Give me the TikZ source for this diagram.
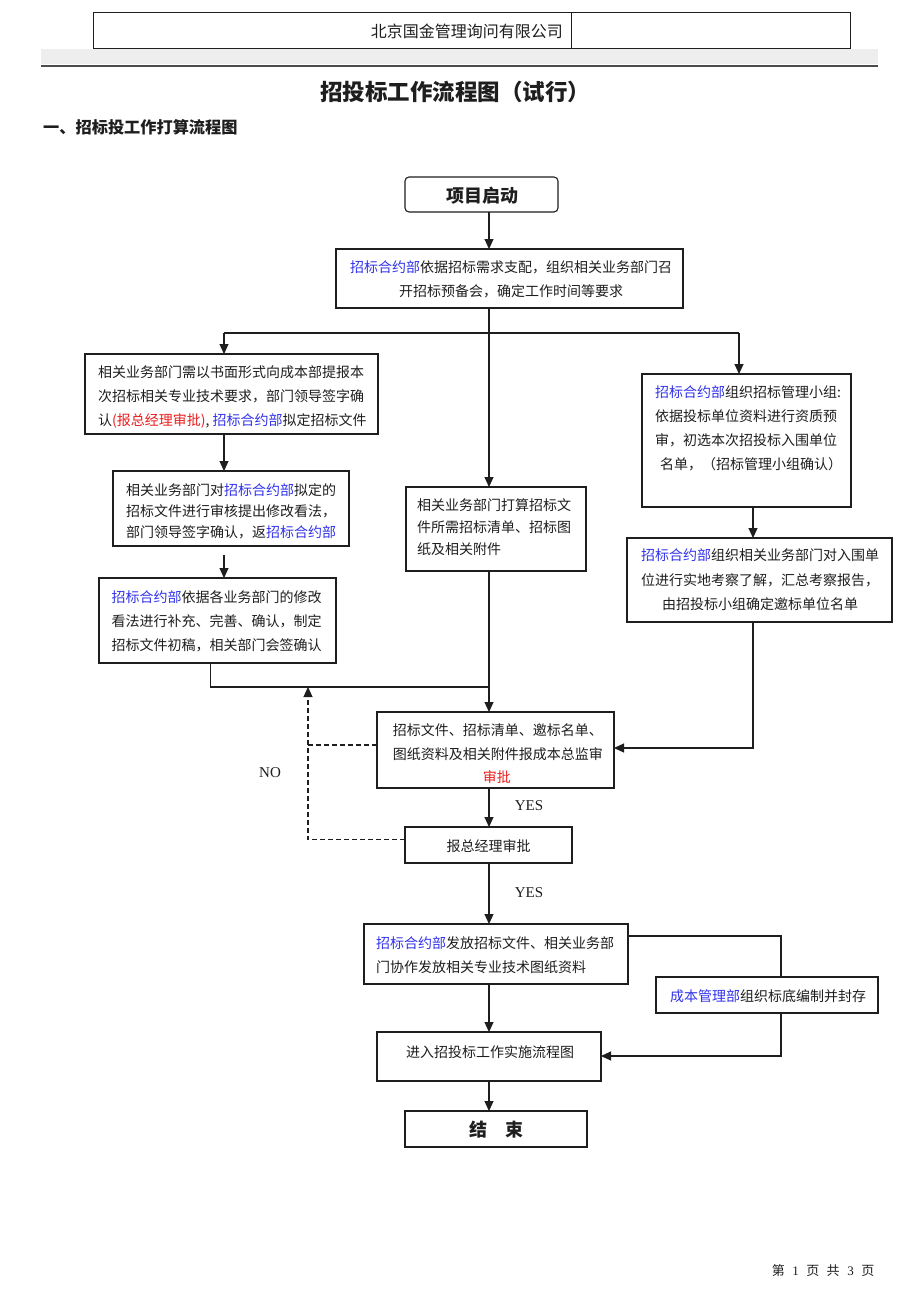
\documentclass[tikz,border=0pt]{standalone}
\usepackage{fontspec}
\setmainfont{Liberation Serif}
\newfontfamily\cjk{Noto Sans CJK SC}
\usetikzlibrary{arrows.meta}
\definecolor{cblue}{RGB}{50,50,235}
\definecolor{cred}{RGB}{235,30,30}
\definecolor{ink}{RGB}{30,30,30}
\tikzset{
  box/.style={draw=ink, line width=1.1pt, inner sep=0pt, outer sep=0pt},
  txt/.style={inner sep=0pt, align=left, text=ink},
  ctxt/.style={inner sep=0pt, align=center, text=ink},
  body/.style={font=\cjk\fontsize{14}{24}\selectfont},
  conn/.style={draw=ink, line width=1.1pt},
  arr/.style={conn, -{Triangle[length=10pt,width=9pt]}},
  dsh/.style={dash pattern=on 5pt off 3pt}
}
\begin{document}
\begin{tikzpicture}[x=1pt,y=-1pt]
\useasboundingbox (0,0) rectangle (920,1302);
\fill[white] (0,0) rectangle (920,1302);
% header
\fill[gray!13] (41,49) rectangle (878,64);
\draw[line width=2pt, gray!60!black] (41,65.5) -- (878,65.5);
\node[box, line width=0.8pt, minimum width=757pt, minimum height=36pt] (hdr) at (471.5,30) {};
\coordinate (hdiv) at (571,0);
\draw[ink, line width=0.8pt] (hdr.north -| hdiv) -- (hdr.south -| hdiv);
\node[txt, anchor=east, font=\cjk\fontsize{16}{18}\selectfont] (hdrt) at (563,31) {北京国金管理询问有限公司};
\node[ctxt, font=\cjk\bfseries\fontsize{22.5}{26}\selectfont] (title) at (455,92) {招投标工作流程图（试行）};
\node[txt, anchor=west, font=\cjk\bfseries\fontsize{16.2}{18}\selectfont] (sub) at (43,127) {一、招标投工作打算流程图};
% boxes
\node[box, rounded corners=4pt, minimum width=153pt, minimum height=35pt] (start) at (481.5,194.5) {};
\node[ctxt, font=\cjk\bfseries\fontsize{18}{20}\selectfont] (startt) at (482,196) {项目启动};
\node[box, minimum width=347pt, minimum height=59pt] (b2) at (509.5,278.5) {};
\node[ctxt, body] (b2t) at (511,279.7) {{\color{cblue}招标合约部}依据招标需求支配，组织相关业务部门召\\开招标预备会，确定工作时间等要求};
\node[box, minimum width=293pt, minimum height=80pt] (L1) at (231.5,394) {};
\node[txt, body, anchor=west] (L1t) at (98,396.5) {相关业务部门需以书面形式向成本部提报本\\次招标相关专业技术要求，部门领导签字确\\认{\color{cred}(报总经理审批)}, {\color{cblue}招标合约部}拟定招标文件};
\node[box, minimum width=236pt, minimum height=75pt] (L2) at (231,508.5) {};
\node[txt, anchor=west, font=\cjk\fontsize{14}{21}\selectfont] (L2t) at (126,511) {相关业务部门对{\color{cblue}招标合约部}拟定的\\招标文件进行审核提出修改看法，\\部门领导签字确认，返{\color{cblue}招标合约部}};
\node[box, minimum width=237pt, minimum height=85pt] (L3) at (217.5,620.5) {};
\node[txt, body, anchor=west] (L3t) at (111.5,621) {{\color{cblue}招标合约部}依据各业务部门的修改\\看法进行补充、完善、确认，制定\\招标文件初稿，相关部门会签确认};
\node[box, minimum width=180pt, minimum height=84pt] (M) at (496,529) {};
\node[txt, anchor=west, font=\cjk\fontsize{14}{21.7}\selectfont] (Mt) at (417,527) {相关业务部门打算招标文\\件所需招标清单、招标图\\纸及相关附件};
\node[box, minimum width=209pt, minimum height=133pt] (R1) at (746.5,440.5) {};
\node[txt, body, anchor=west] (R1t) at (655,428.3) {{\color{cblue}招标合约部}组织招标管理小组:\\依据投标单位资料进行资质预\\审，初选本次招投标入围单位\\\hspace*{5pt}名单，（招标管理小组确认）};
\node[box, minimum width=265pt, minimum height=84pt] (R2) at (759.5,580) {};
\node[ctxt, font=\cjk\fontsize{14}{24.5}\selectfont] (R2t) at (760,580) {{\color{cblue}招标合约部}组织相关业务部门对入围单\\位进行实地考察了解，汇总考察报告，\\由招投标小组确定邀标单位名单};
\node[box, minimum width=237pt, minimum height=76pt] (C) at (495.5,750) {};
\node[txt, anchor=west, font=\cjk\fontsize{14}{23.6}\selectfont] (Ct) at (392.7,754) {招标文件、招标清单、邀标名单、\\图纸资料及相关附件报成本总监审\\\hspace*{90pt}{\color{cred}审批}};
\node[box, minimum width=167pt, minimum height=36pt] (D) at (488.5,845) {};
\node[ctxt, body] (Dt) at (488.5,846) {报总经理审批};
\node[box, minimum width=264pt, minimum height=60pt] (E) at (496,954) {};
\node[txt, body, anchor=west] (Et) at (376,954.7) {{\color{cblue}招标合约部}发放招标文件、相关业务部\\门协作发放相关专业技术图纸资料};
\node[box, minimum width=222pt, minimum height=36pt] (F) at (767,995) {};
\node[ctxt, body] (Ft) at (768,996) {{\color{cblue}成本管理部}组织标底编制并封存};
\node[box, minimum width=224pt, minimum height=49pt] (G) at (489,1056.5) {};
\node[txt, body, anchor=west] (Gt) at (406,1052) {进入招投标工作实施流程图};
\node[box, minimum width=182pt, minimum height=36pt] (H) at (496,1129) {};
\node[ctxt, font=\cjk\bfseries\fontsize{18}{20}\selectfont] (Ht) at (496,1130) {结\hspace{1em}束};
% labels
\node[ctxt, font=\fontsize{15}{18}\selectfont] (yes1) at (529,806) {YES};
\node[ctxt, font=\fontsize{15}{18}\selectfont] (yes2) at (529,893) {YES};
\node[ctxt, font=\fontsize{15}{18}\selectfont] (no) at (270,773) {NO};
\node[ctxt, font=\fontsize{13}{15}\selectfont] (foot) at (823,1271) {{\cjk 第}\hspace{7.5pt}1\hspace{7.5pt}{\cjk 页}\hspace{7.5pt}{\cjk 共}\hspace{7.5pt}3\hspace{7.5pt}{\cjk 页}};
% helper coordinates
\coordinate (sp) at (489,0);
\coordinate (cl) at (224,0);
\coordinate (cr) at (739,0);
\coordinate (by) at (0,333);
\coordinate (l3x) at (210.5,0);
\coordinate (jy) at (0,687);
\coordinate (rx) at (753,0);
\coordinate (cy) at (0,748);
\coordinate (nx) at (308,0);
\coordinate (dy) at (0,839.5);
\coordinate (cdy) at (0,745);
\coordinate (fx) at (781,0);
\coordinate (ey) at (0,936);
\coordinate (gy) at (0,1056);
% connectors
\draw[arr] (start.south -| sp) -- (b2.north -| sp);
\draw[arr] (b2.south -| sp) -- (M.north -| sp);
\draw[conn] (cl |- by) -- (cr |- by);
\draw[arr] (cl |- by) -- (L1.north -| cl);
\draw[arr] (cr |- by) -- (R1.north -| cr);
\draw[arr] (L1.south -| cl) -- (L2.north -| cl);
\draw[arr] ([yshift=-9pt]L2.south -| cl) -- (L3.north -| cl);
\draw[conn] (L3.south -| l3x) |- (sp |- jy);
\draw[arr] (M.south -| sp) -- (C.north -| sp);
\draw[arr] (R1.south -| rx) -- (R2.north -| rx);
\draw[arr] (R2.south -| rx) |- (C.east |- cy);
\draw[arr] (C.south -| sp) -- (D.north -| sp);
\draw[arr, dsh] (D.west |- dy) -| (nx |- jy);
\draw[conn, dsh] (C.west |- cdy) -- (nx |- cdy);
\draw[arr] (D.south -| sp) -- (E.north -| sp);
\draw[conn] (E.east |- ey) -| (F.north -| fx);
\draw[arr] (F.south -| fx) |- (G.east |- gy);
\draw[arr] (E.south -| sp) -- (G.north -| sp);
\draw[arr] (G.south -| sp) -- (H.north -| sp);
\end{tikzpicture}
\end{document}
